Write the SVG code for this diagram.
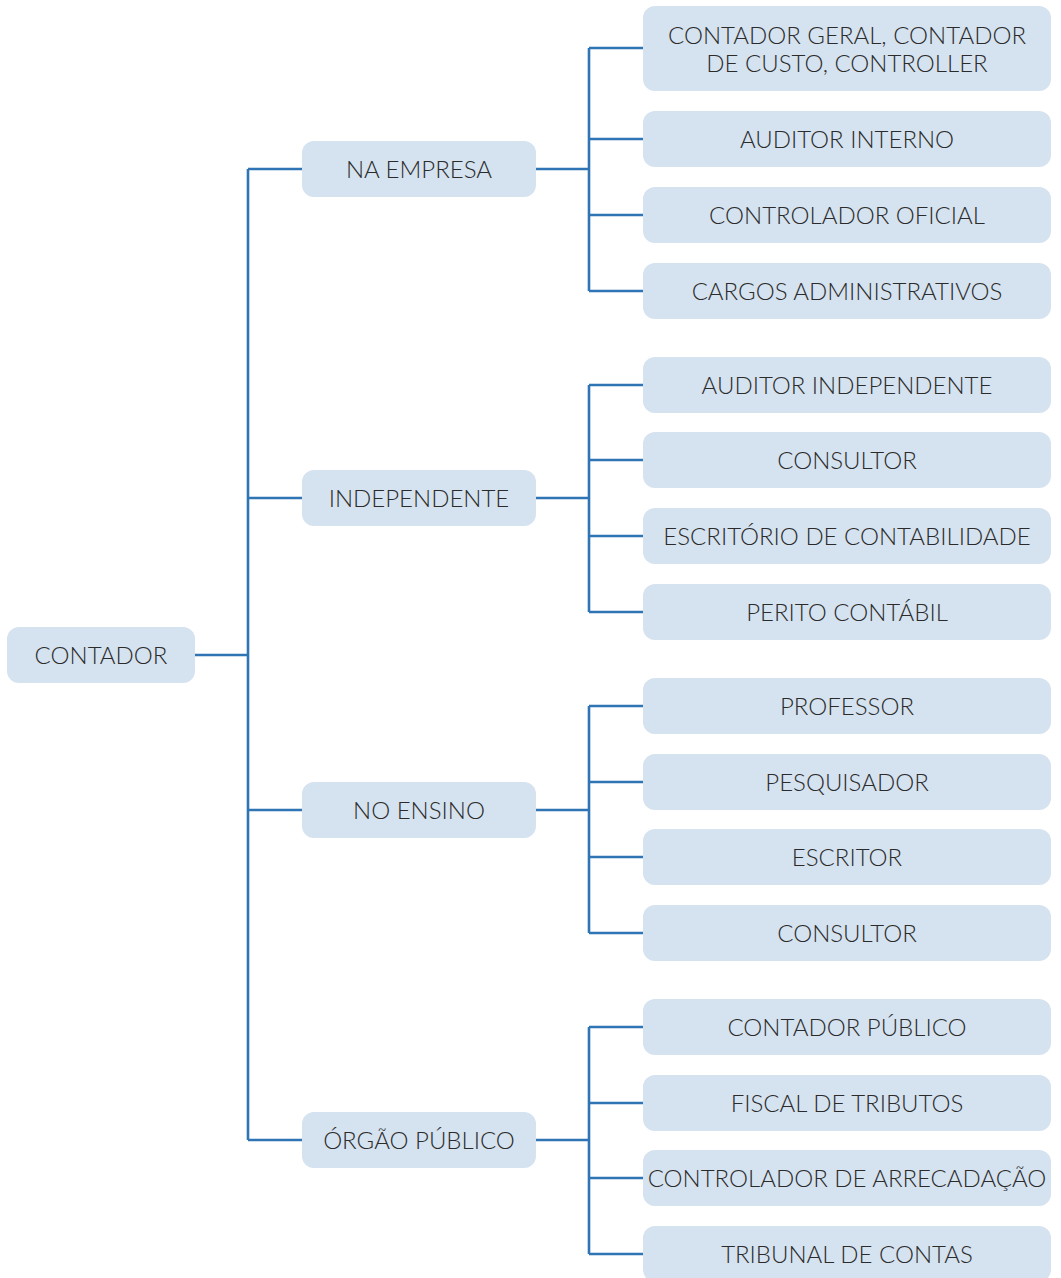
<svg xmlns="http://www.w3.org/2000/svg" width="1061" height="1278" viewBox="0 0 1061 1278">
<style>
.box{fill:#d5e2ef;}
.t{font-family:Lato,"Liberation Sans",sans-serif;font-weight:300;font-size:24px;fill:#2b2b2b;text-anchor:middle;}
.c{stroke:#2f74b5;stroke-width:2.6;fill:none;}
</style>
<rect width="1061" height="1278" fill="#fff"/>
<g id="connectors" class="c">
<path d="M195,655H248M248,169V1140M248,169H302M248,498H302M248,810H302M248,1140H302"/>
<path d="M536,169H589M589,48V291M589,48H643M589,139H643M589,215H643M589,291H643"/>
<path d="M536,498H589M589,385V612M589,385H643M589,460H643M589,536H643M589,612H643"/>
<path d="M536,810H589M589,706V933M589,706H643M589,782H643M589,857H643M589,933H643"/>
<path d="M536,1140H589M589,1027V1254M589,1027H643M589,1103H643M589,1178H643M589,1254H643"/>
</g>
<g id="contador"><rect class="box" x="7" y="627" width="188" height="56" rx="12"/><text class="t" x="101" y="664">CONTADOR</text></g>
<g id="na-empresa"><rect class="box" x="302" y="141" width="234" height="56" rx="12"/><text class="t" x="419" y="178">NA EMPRESA</text></g>
<g id="independente"><rect class="box" x="302" y="470" width="234" height="56" rx="12"/><text class="t" x="419" y="507">INDEPENDENTE</text></g>
<g id="no-ensino"><rect class="box" x="302" y="782" width="234" height="56" rx="12"/><text class="t" x="419" y="819">NO ENSINO</text></g>
<g id="orgao-publico"><rect class="box" x="302" y="1112" width="234" height="56" rx="12"/><text class="t" x="419" y="1149">ÓRGÃO PÚBLICO</text></g>
<g id="leaf-contador-geral"><rect class="box" x="643" y="6" width="408" height="85" rx="12"/><text class="t" x="847" y="44">CONTADOR GERAL, CONTADOR</text><text class="t" x="847" y="72">DE CUSTO, CONTROLLER</text></g>
<g id="leaf-auditor-interno"><rect class="box" x="643" y="111" width="408" height="56" rx="12"/><text class="t" x="847" y="148">AUDITOR INTERNO</text></g>
<g id="leaf-controlador-oficial"><rect class="box" x="643" y="187" width="408" height="56" rx="12"/><text class="t" x="847" y="224">CONTROLADOR OFICIAL</text></g>
<g id="leaf-cargos"><rect class="box" x="643" y="263" width="408" height="56" rx="12"/><text class="t" x="847" y="300">CARGOS ADMINISTRATIVOS</text></g>
<g id="leaf-auditor-independente"><rect class="box" x="643" y="357" width="408" height="56" rx="12"/><text class="t" x="847" y="394">AUDITOR INDEPENDENTE</text></g>
<g id="leaf-consultor-1"><rect class="box" x="643" y="432" width="408" height="56" rx="12"/><text class="t" x="847" y="469">CONSULTOR</text></g>
<g id="leaf-escritorio"><rect class="box" x="643" y="508" width="408" height="56" rx="12"/><text class="t" x="847" y="545">ESCRITÓRIO DE CONTABILIDADE</text></g>
<g id="leaf-perito"><rect class="box" x="643" y="584" width="408" height="56" rx="12"/><text class="t" x="847" y="621">PERITO CONTÁBIL</text></g>
<g id="leaf-professor"><rect class="box" x="643" y="678" width="408" height="56" rx="12"/><text class="t" x="847" y="715">PROFESSOR</text></g>
<g id="leaf-pesquisador"><rect class="box" x="643" y="754" width="408" height="56" rx="12"/><text class="t" x="847" y="791">PESQUISADOR</text></g>
<g id="leaf-escritor"><rect class="box" x="643" y="829" width="408" height="56" rx="12"/><text class="t" x="847" y="866">ESCRITOR</text></g>
<g id="leaf-consultor-2"><rect class="box" x="643" y="905" width="408" height="56" rx="12"/><text class="t" x="847" y="942">CONSULTOR</text></g>
<g id="leaf-contador-publico"><rect class="box" x="643" y="999" width="408" height="56" rx="12"/><text class="t" x="847" y="1036">CONTADOR PÚBLICO</text></g>
<g id="leaf-fiscal"><rect class="box" x="643" y="1075" width="408" height="56" rx="12"/><text class="t" x="847" y="1112">FISCAL DE TRIBUTOS</text></g>
<g id="leaf-controlador-arrecadacao"><rect class="box" x="643" y="1150" width="408" height="56" rx="12"/><text class="t" x="847" y="1187">CONTROLADOR DE ARRECADAÇÃO</text></g>
<g id="leaf-tribunal"><rect class="box" x="643" y="1226" width="408" height="56" rx="12"/><text class="t" x="847" y="1263">TRIBUNAL DE CONTAS</text></g>
</svg>
